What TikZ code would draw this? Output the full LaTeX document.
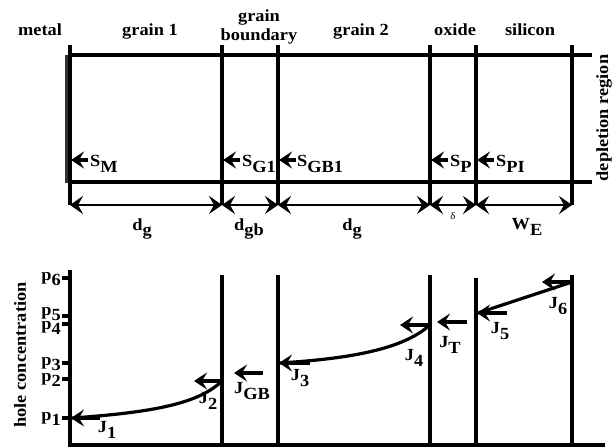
\documentclass[tikz,border=0pt]{standalone}
\usepackage{fontspec}
\setmainfont{Liberation Serif}[FakeStretch=1.08]
\usetikzlibrary{arrows.meta,positioning}
\newcommand{\lowr}[1]{\raisebox{-0.35em}{#1}}

\begin{document}
\begin{tikzpicture}[x=1pt,y=-1pt,
    lbl/.style={font=\fontsize{17}{19}\selectfont\bfseries, inner sep=0pt},
    tiny/.style={font=\fontsize{10}{12}\selectfont, inner sep=0pt},
    wall/.style={line width=3.2pt},
    flux/.style={line width=3.2pt, -{Stealth[length=13pt,width=17pt,inset=5pt]}},
    dim/.style={line width=2.8pt,
                {Stealth[length=13pt,width=18pt,inset=5pt]}-{Stealth[length=13pt,width=18pt,inset=5pt]}},
  ]
  \useasboundingbox (0,0) rectangle (616,447);

  % top: layers of the cell
  \coordinate (tl) at (70,55);  \coordinate (tr) at (592,55);
  \coordinate (bl) at (70,182); \coordinate (br) at (592,182);
  \fill[black!80] (65,55) rectangle (72,183);
  \draw[wall] (tl) -- (tr);
  \draw[wall] (bl) -- (br);

  \coordinate (m0) at (70,45);  \coordinate (m1) at (70,205);
  \coordinate (a0) at (222,45); \coordinate (a1) at (222,205);
  \coordinate (b0) at (278,45); \coordinate (b1) at (278,205);
  \coordinate (c0) at (430,45); \coordinate (c1) at (430,205);
  \coordinate (d0) at (476,45); \coordinate (d1) at (476,205);
  \coordinate (e0) at (572,45); \coordinate (e1) at (572,205);
  \draw[wall] (m0) -- (m1);
  \draw[wall] (a0) -- (a1);
  \draw[wall] (b0) -- (b1);
  \draw[wall] (c0) -- (c1);
  \draw[wall] (d0) -- (d1);
  \draw[wall] (e0) -- (e1);

  \node[lbl, anchor=base] (metal)  at (40,35)  {metal};
  \node[lbl, anchor=base] (grain1) at (150,35) {grain 1};
  \node[lbl, align=center] (gb)    at (259,27) {grain\\boundary};
  \node[lbl, anchor=base] (grain2) at (361,35) {grain 2};
  \node[lbl, anchor=base] (oxide)  at (455,35) {oxide};
  \node[lbl, anchor=base] (si)     at (530,35) {silicon};
  \node[lbl, rotate=90] (depl) at (604,118) {depletion region};

  % surface recombination
  \draw[flux] (88,160) -- (71,160);
  \draw[flux] (240,160) -- (223,160);
  \draw[flux] (296,160) -- (279,160);
  \draw[flux] (448,160) -- (431,160);
  \draw[flux] (494,160) -- (477,160);
  \node[lbl, anchor=west] (sm)   at (90,164)  {S\lowr{M}};
  \node[lbl, anchor=west] (sg1)  at (242,164) {S\lowr{G1}};
  \node[lbl, anchor=west] (sgb1) at (297,164) {S\lowr{GB1}};
  \node[lbl, anchor=west] (sp)   at (450,164) {S\lowr{P}};
  \node[lbl, anchor=west] (spi)  at (496,164) {S\lowr{PI}};

  % widths
  \draw[dim] (m1) -- (a1);
  \draw[dim] (a1) -- (b1);
  \draw[dim] (b1) -- (c1);
  \draw[dim] (c1) -- (d1);
  \draw[dim] (d1) -- (e1);
  \node[lbl] (dg1)  at (142,229) {d\lowr{g}};
  \node[lbl] (dgb)  at (249,229) {d\lowr{gb}};
  \node[lbl] (dg2)  at (352,229) {d\lowr{g}};
  \node[tiny] (del) at (453,216) {δ};
  \node[lbl] (we)   at (527,227) {W\lowr{E}};

  % bottom: hole profile
  \draw[wall] (70,270) -- (70,445) -- (605,445);
  \draw[wall] (222,275) -- (222,445);
  \draw[wall] (278,275) -- (278,445);
  \draw[wall] (430,275) -- (430,445);
  \draw[wall] (476,278) -- (476,445);
  \draw[wall] (572,275) -- (572,445);
  \draw[wall] (62,278) -- (70,278);
  \draw[wall] (62,316) -- (70,316);
  \draw[wall] (62,324) -- (70,324);
  \draw[wall] (62,363) -- (70,363);
  \draw[wall] (62,379) -- (70,379);
  \draw[wall] (62,418) -- (70,418);
  \node[lbl, anchor=base east] (p6) at (61,280) {p\lowr{6}};
  \node[lbl, anchor=base east] (p5) at (61,315) {p\lowr{5}};
  \node[lbl, anchor=base east] (p4) at (61,329) {p\lowr{4}};
  \node[lbl, anchor=base east] (p3) at (61,365) {p\lowr{3}};
  \node[lbl, anchor=base east] (p2) at (61,381) {p\lowr{2}};
  \node[lbl, anchor=base east] (p1) at (61,420) {p\lowr{1}};
  \node[lbl, rotate=90] (hc) at (20,355) {hole concentration};

  \draw[line width=3.2pt] (72,418) .. controls (160,412) and (200,402) .. (222,381);
  \draw[line width=3.2pt] (280,363) .. controls (360,358) and (405,347) .. (430,325);
  \draw[line width=3.2pt] (478,313) -- (572,282);
  \draw[flux] (100,418) -- (71,418);
  \draw[flux] (222,381) -- (194,381);
  \draw[flux] (263,373) -- (234,373);
  \draw[flux] (310,363) -- (279,363);
  \draw[flux] (430,325) -- (400,325);
  \draw[flux] (467,322) -- (437,322);
  \draw[flux] (507,313) -- (477,313);
  \draw[flux] (572,282) -- (542,282);
  \node[lbl] (j1)  at (107,430) {J\lowr{1}};
  \node[lbl] (j2)  at (208,401) {J\lowr{2}};
  \node[lbl] (jgb) at (252,391) {J\lowr{GB}};
  \node[lbl] (j3)  at (300,378) {J\lowr{3}};
  \node[lbl] (j4)  at (414,358) {J\lowr{4}};
  \node[lbl] (jt)  at (450,345) {J\lowr{T}};
  \node[lbl] (j5)  at (500,331) {J\lowr{5}};
  \node[lbl] (j6)  at (558,306) {J\lowr{6}};
\end{tikzpicture}
\end{document}
